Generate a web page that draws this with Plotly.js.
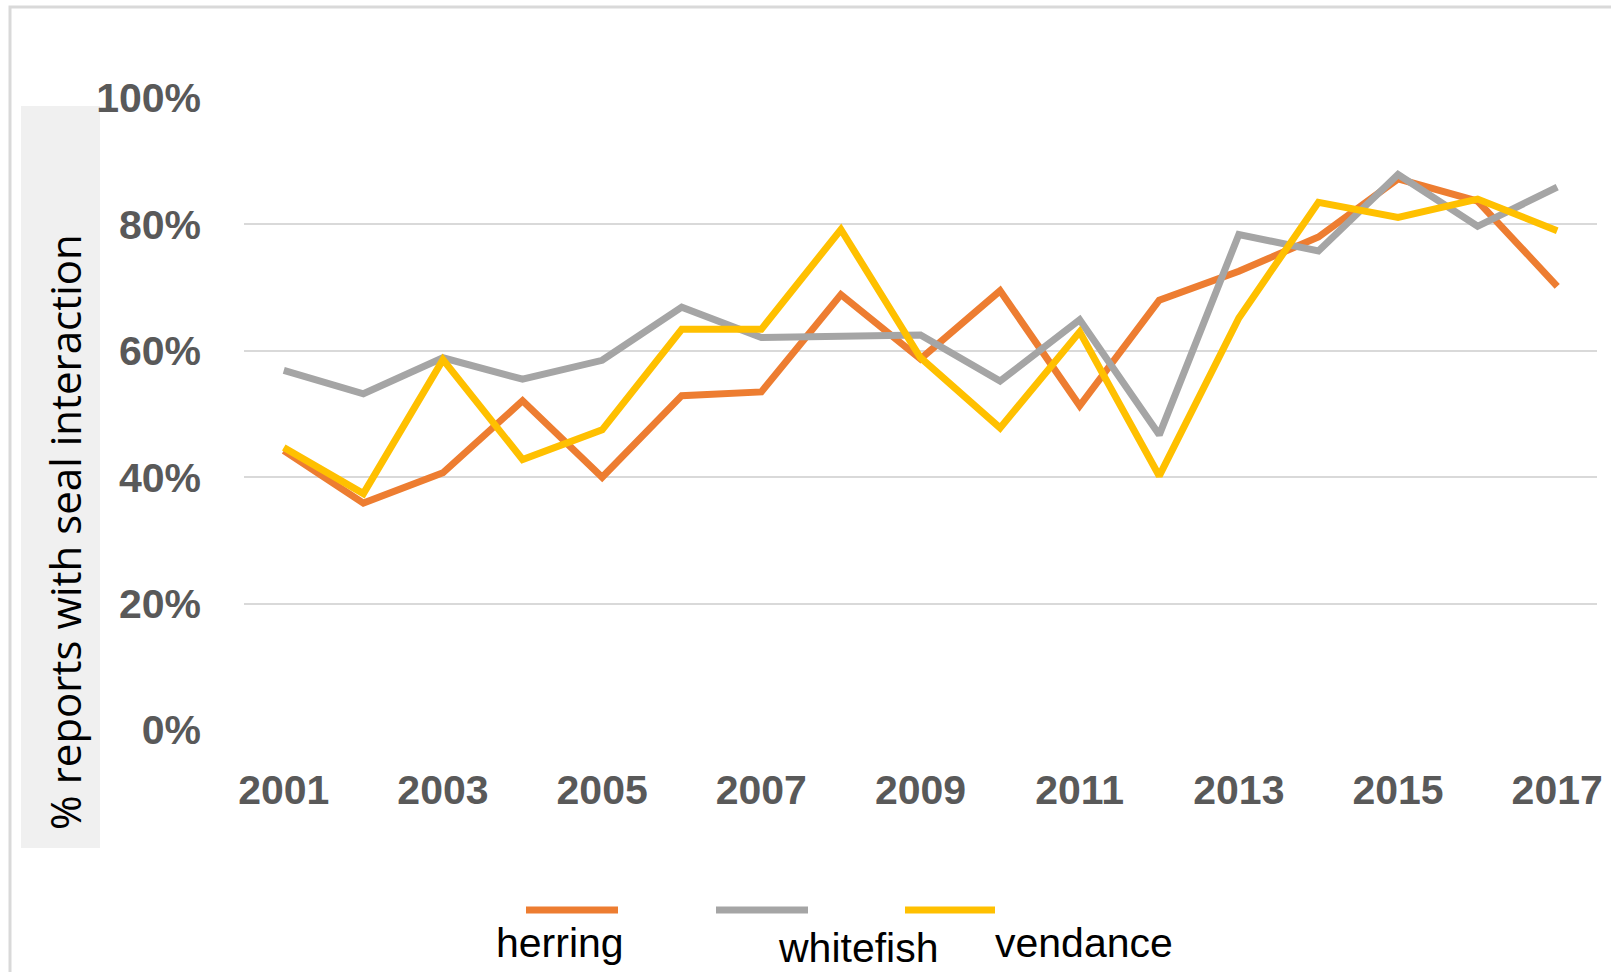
<!DOCTYPE html>
<html>
<head>
<meta charset="utf-8">
<script src="https://cdn.plot.ly/plotly-3.0.1.min.js"></script>
<style>
html, body { margin: 0; padding: 0; background: #ffffff; }
#chart { width: 1611px; height: 972px; }
</style>
</head>
<body>
<div id="chart"></div>
<script>
// ---- data ----
const years = [2001, 2002, 2003, 2004, 2005, 2006, 2007, 2008, 2009, 2010, 2011, 2012, 2013, 2014, 2015, 2016, 2017];
const herring   = [44.2, 35.9, 40.7, 52.1, 40.0, 52.9, 53.5, 68.9, 58.7, 69.5, 51.3, 68.0, 72.6, 78.0, 87.2, 83.7, 70.2];
const whitefish = [56.9, 53.2, 58.9, 55.5, 58.5, 66.9, 62.1, 62.4, 62.5, 55.2, 64.9, 46.7, 78.4, 75.8, 87.9, 79.7, 85.9];
const vendance  = [44.7, 37.4, 58.6, 42.8, 47.5, 63.4, 63.4, 79.2, 58.9, 47.8, 63.0, 40.2, 65.2, 83.5, 81.1, 84.0, 79.0];
const seriesNames = ["herring", "whitefish", "vendance"];
const xTickVals = [2001, 2003, 2005, 2007, 2009, 2011, 2013, 2015, 2017];
const xTickText = ["2001", "2003", "2005", "2007", "2009", "2011", "2013", "2015", "2017"];
const yTickVals = [0, 20, 40, 60, 80, 100];
const yTickText = ["0%", "20%", "40%", "60%", "80%", "100%"];
const yTitle = "% reports with seal interaction";

// ---- styling ----
const colors = ["#ED7D31", "#A5A5A5", "#FFC000"];
const W = 1611, H = 972;
const M = { l: 244, r: 14, t: 98, b: 242 };
const PW = W - M.l - M.r, PH = H - M.t - M.b;
const px = x => (x - M.l) / PW;           // pixel x -> paper x
const py = y => (H - M.b - y) / PH;       // pixel y -> paper y

const values = [herring, whitefish, vendance];
const traces = values.map((v, i) => ({
  type: "scatter",
  mode: "lines",
  x: years,
  y: v,
  name: seriesNames[i],
  line: { color: colors[i], width: 7 },
  hoverinfo: "x+y+name",
  showlegend: false
}));

// legend drawn as shapes + annotations (symbol above, label below)
const legendLines = [[526, 618], [716, 808], [905, 995]];
const legendLabelPos = [[560, 943], [858, 948], [1084, 943]];

const shapes = [
  // outer frame
  { type: "rect", xref: "paper", yref: "paper", x0: px(10), x1: px(1630), y0: py(7), y1: py(990),
    line: { color: "#d9d9d9", width: 3 }, fillcolor: "rgba(0,0,0,0)", layer: "below" },
  // grey box behind y title
  { type: "rect", xref: "paper", yref: "paper", x0: px(21), x1: px(100), y0: py(106), y1: py(848),
    line: { width: 0 }, fillcolor: "#f0f0f0", layer: "below" }
];
legendLines.forEach((p, i) => {
  shapes.push({ type: "line", xref: "paper", yref: "paper", x0: px(p[0]), x1: px(p[1]), y0: py(910), y1: py(910),
    line: { color: colors[i], width: 7 } });
});

const annotations = [
  { xref: "paper", yref: "paper", x: px(64), y: py(532), text: yTitle, textangle: -90, showarrow: false,
    xanchor: "center", yanchor: "middle", font: { family: "Open Sans, sans-serif", size: 42, color: "#000000" } }
];
legendLabelPos.forEach((p, i) => {
  annotations.push({ xref: "paper", yref: "paper", x: px(p[0]), y: py(p[1]), text: seriesNames[i], showarrow: false,
    xanchor: "center", yanchor: "middle", font: { family: "Liberation Sans, Arial, sans-serif", size: 41, color: "#000000" } });
});

const tickFont = { family: "Liberation Sans, Arial, sans-serif", size: 41, color: "#595959", weight: "bold" };

const layout = {
  width: W, height: H,
  margin: M,
  paper_bgcolor: "#ffffff",
  plot_bgcolor: "#ffffff",
  showlegend: false,
  xaxis: {
    range: [2000.5, 2017.5],
    tickvals: xTickVals, ticktext: xTickText,
    showgrid: false, zeroline: false, showline: false, ticks: "",
    ticklabelstandoff: 32,
    tickfont: tickFont,
    fixedrange: true
  },
  yaxis: {
    range: [0, 100],
    tickvals: yTickVals, ticktext: yTickText,
    showgrid: true, gridcolor: "#d9d9d9", gridwidth: 2,
    zeroline: false, showline: false, ticks: "",
    ticklabelstandoff: 42,
    tickfont: tickFont,
    fixedrange: true
  },
  shapes: shapes,
  annotations: annotations
};

Plotly.newPlot("chart", traces, layout, { displayModeBar: false, staticPlot: true });
</script>
</body>
</html>
